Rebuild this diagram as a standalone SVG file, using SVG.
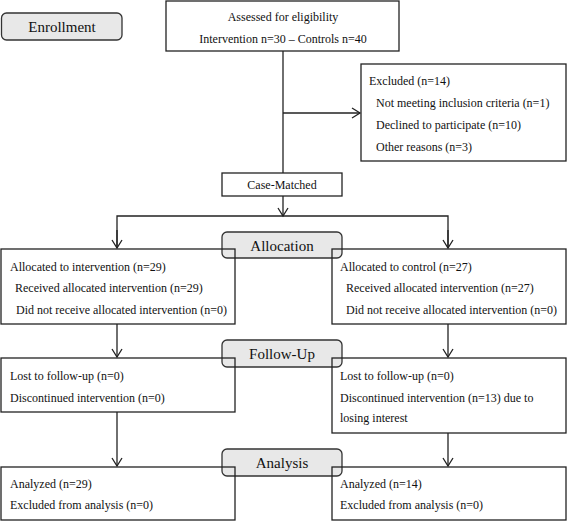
<svg xmlns="http://www.w3.org/2000/svg" width="567" height="522" viewBox="0 0 567 522">
<style>
text{font-family:"Liberation Serif","Times New Roman",serif;font-size:12px;fill:#111}
.t{font-size:15px}
.box{fill:none;stroke:#222;stroke-width:1.3}
.lbl{fill:#e8e8e8;stroke:#333;stroke-width:1.3}
.c{fill:none;stroke:#222;stroke-width:1.3}
</style>
<defs>
<marker id="a" markerWidth="12" markerHeight="12" refX="10" refY="6" orient="auto" markerUnits="userSpaceOnUse">
<polyline points="2,1 10,6 2,11" fill="none" stroke="#222" stroke-width="1.3"/>
</marker>
</defs>
<rect width="567" height="522" fill="#fff"/>
<g id="labels">
<g id="enrollment"><rect class="lbl" x="1.5" y="13" width="120.5" height="27" rx="5"/><text class="t" x="62" y="32" text-anchor="middle">Enrollment</text></g>
<g id="allocation"><rect class="lbl" x="222" y="232" width="120" height="26" rx="5"/><text class="t" x="282" y="251" text-anchor="middle">Allocation</text></g>
<g id="followup"><rect class="lbl" x="222" y="340" width="120" height="27" rx="5"/><text class="t" x="282" y="359" text-anchor="middle">Follow-Up</text></g>
<g id="analysis"><rect class="lbl" x="222" y="449" width="120" height="27" rx="5"/><text class="t" x="282" y="468" text-anchor="middle">Analysis</text></g>
</g>
<g id="connectors">
<line class="c" x1="283" y1="51" x2="283" y2="173"/>
<line class="c" x1="283" y1="113" x2="360" y2="113" marker-end="url(#a)"/>
<line class="c" x1="283" y1="196" x2="283" y2="216" marker-end="url(#a)"/>
<polyline class="c" points="117,248 117,216 448,216 448,248"/>
<line class="c" x1="117" y1="230" x2="117" y2="248" marker-end="url(#a)"/>
<line class="c" x1="448" y1="230" x2="448" y2="248" marker-end="url(#a)"/>
<line class="c" x1="117" y1="324" x2="117" y2="357" marker-end="url(#a)"/>
<line class="c" x1="448" y1="324" x2="448" y2="357" marker-end="url(#a)"/>
<line class="c" x1="117" y1="412" x2="117" y2="466" marker-end="url(#a)"/>
<line class="c" x1="448" y1="433" x2="448" y2="466" marker-end="url(#a)"/>
</g>
<g id="assessed"><rect class="box" x="166" y="1" width="233" height="50"/>
<text x="283" y="21" text-anchor="middle">Assessed for eligibility</text>
<text x="283" y="43" text-anchor="middle">Intervention n=30 – Controls n=40</text></g>
<g id="excluded"><rect class="box" x="361" y="64" width="205" height="97"/>
<text x="369" y="85">Excluded (n=14)</text>
<text x="376" y="107">Not meeting inclusion criteria (n=1)</text>
<text x="376" y="129">Declined to participate (n=10)</text>
<text x="376" y="151">Other reasons (n=3)</text></g>
<g id="casematched"><rect class="box" x="222" y="173" width="120" height="23"/>
<text x="282" y="189" text-anchor="middle">Case-Matched</text></g>
<g id="alloc-int"><rect class="box" x="1" y="249" width="234" height="75"/>
<text x="10" y="271">Allocated to intervention (n=29)</text>
<text x="15" y="292">Received allocated intervention (n=29)</text>
<text x="16" y="314">Did not receive allocated intervention (n=0)</text></g>
<g id="alloc-ctrl"><rect class="box" x="332" y="249" width="234" height="75"/>
<text x="340" y="271">Allocated to control (n=27)</text>
<text x="346" y="292">Received allocated intervention (n=27)</text>
<text x="346" y="314">Did not receive allocated intervention (n=0)</text></g>
<g id="follow-int"><rect class="box" x="1" y="358" width="234" height="54"/>
<text x="10" y="380">Lost to follow-up (n=0)</text>
<text x="10" y="402">Discontinued intervention (n=0)</text></g>
<g id="follow-ctrl"><rect class="box" x="332" y="358" width="234" height="75"/>
<text x="340" y="380">Lost to follow-up (n=0)</text>
<text x="340" y="402">Discontinued intervention (n=13) due to</text>
<text x="340" y="422">losing interest</text></g>
<g id="analysis-int"><rect class="box" x="1" y="467" width="234" height="53"/>
<text x="10" y="488">Analyzed (n=29)</text>
<text x="10" y="509">Excluded from analysis (n=0)</text></g>
<g id="analysis-ctrl"><rect class="box" x="332" y="467" width="234" height="53"/>
<text x="340" y="488">Analyzed (n=14)</text>
<text x="340" y="509">Excluded from analysis (n=0)</text></g>
</svg>
